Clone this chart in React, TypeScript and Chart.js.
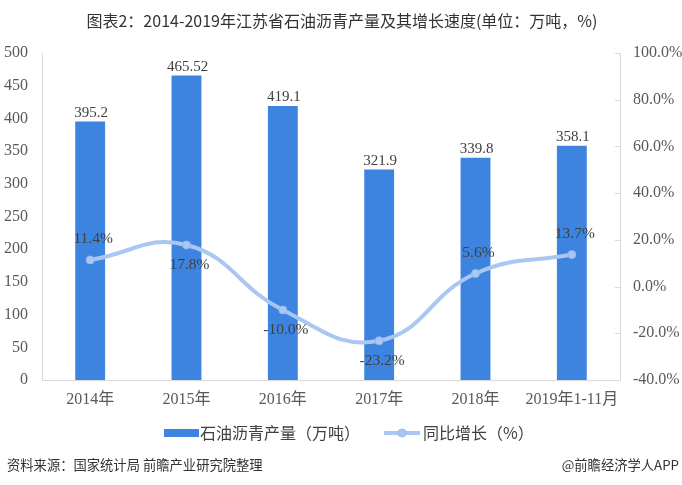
import React, { useEffect, useRef } from "react";
import { Chart, registerables } from "chart.js";

Chart.register(...registerables);

const categories = ["2014年", "2015年", "2016年", "2017年", "2018年", "2019年1-11月"];
const production = [395.2, 465.52, 419.1, 321.9, 339.8, 358.1];
const productionLabels = ["395.2", "465.52", "419.1", "321.9", "339.8", "358.1"];
const growth = [11.4, 17.8, -10.0, -23.2, 5.6, 13.7];
const growthLabelSide = ["top", "bottom", "bottom", "bottom", "top", "top"];

const titleText = "图表2：2014-2019年江苏省石油沥青产量及其增长速度(单位：万吨，%)";
const barLegend = "石油沥青产量（万吨）";
const lineLegend = "同比增长（%）";
const sourceText = "资料来源：国家统计局 前瞻产业研究院整理";
const brandText = "@前瞻经济学人APP";

const BAR_COLOR = "#3d83e0";
const LINE_COLOR = "#a9c7f0";
const SERIF = "'Liberation Serif', 'Times New Roman', 'Noto Sans CJK SC', serif";
const SANS = "'Noto Sans CJK SC', 'Microsoft YaHei', sans-serif";

const decorPlugin = {
  id: "decor",
  afterDraw(chart: any) {
    const ctx = chart.ctx;
    const W = chart.width;
    ctx.save();
    // title
    ctx.fillStyle = "#333333";
    ctx.font = `16px ${SANS}`;
    ctx.textAlign = "center";
    ctx.textBaseline = "middle";
    ctx.fillText(titleText, W / 2 + 1, 21);

    // right axis inner tick marks
    const y1 = chart.scales.y1;
    ctx.strokeStyle = "#d9d9d9";
    ctx.lineWidth = 1;
    y1.ticks.forEach((t: any, i: number) => {
      const y = Math.round(y1.getPixelForTick(i)) + 0.5;
      ctx.beginPath();
      ctx.moveTo(y1.left - 5, y);
      ctx.lineTo(y1.left, y);
      ctx.stroke();
    });

    // legend
    const ly = 433;
    ctx.fillStyle = BAR_COLOR;
    ctx.fillRect(164, ly - 4, 35, 8);
    ctx.fillStyle = "#404040";
    ctx.font = `16px ${SANS}`;
    ctx.textAlign = "left";
    ctx.fillText(barLegend, 200, ly);
    ctx.strokeStyle = LINE_COLOR;
    ctx.lineWidth = 4;
    ctx.beginPath();
    ctx.moveTo(384, ly);
    ctx.lineTo(420, ly);
    ctx.stroke();
    ctx.fillStyle = LINE_COLOR;
    ctx.strokeStyle = "#96b9ea";
    ctx.lineWidth = 1;
    ctx.beginPath();
    ctx.arc(402, ly, 4, 0, Math.PI * 2);
    ctx.fill();
    ctx.stroke();
    ctx.fillStyle = "#404040";
    ctx.fillText(lineLegend, 423, ly);

    // footer
    ctx.font = `13.3px ${SANS}`;
    ctx.fillStyle = "#333333";
    ctx.textAlign = "left";
    ctx.fillText(sourceText, 7, 465);
    ctx.textAlign = "right";
    ctx.fillText(brandText, 679, 465);
    ctx.restore();
  },
  afterDatasetsDraw(chart: any) {
    const ctx = chart.ctx;
    ctx.save();
    ctx.font = `15px ${SERIF}`;
    ctx.fillStyle = "#404040";
    ctx.textAlign = "center";
    const barMeta = chart.getDatasetMeta(0);
    barMeta.data.forEach((el: any, i: number) => {
      ctx.textBaseline = "bottom";
      ctx.fillText(productionLabels[i], el.x + 1, el.y - 1);
    });
    ctx.font = `15.5px ${SERIF}`;
    const lineMeta = chart.getDatasetMeta(1);
    lineMeta.data.forEach((el: any, i: number) => {
      const label = growth[i].toFixed(1) + "%";
      ctx.textBaseline = "middle";
      const dy = growthLabelSide[i] === "top" ? -21 : 20;
      ctx.fillText(label, el.x + 3, el.y + dy);
    });
    ctx.restore();
  },
};

export default function App() {
  const ref = useRef<HTMLCanvasElement>(null);
  useEffect(() => {
    if (!ref.current) return;
    const chart = new Chart(ref.current, {
      type: "bar",
      data: {
        labels: categories,
        datasets: [
          {
            type: "bar",
            label: barLegend,
            data: production,
            backgroundColor: BAR_COLOR,
            yAxisID: "y",
            barPercentage: 0.31,
            categoryPercentage: 1,
            order: 2,
          },
          {
            type: "line",
            label: lineLegend,
            data: growth,
            borderColor: LINE_COLOR,
            backgroundColor: LINE_COLOR,
            borderWidth: 4,
            pointRadius: 4,
            pointBorderColor: "#96b9ea",
            pointBorderWidth: 1,
            pointBackgroundColor: LINE_COLOR,
            tension: 0.45,
            yAxisID: "y1",
            order: 1,
          } as any,
        ],
      },
      options: {
        animation: false,
        responsive: false,
        maintainAspectRatio: false,
        layout: { padding: { top: 53, bottom: 75, left: 0, right: 0 } },
        plugins: { legend: { display: false }, title: { display: false }, tooltip: { enabled: false } },
        scales: {
          x: {
            grid: { display: false, drawTicks: false },
            border: { display: true, color: "#d9d9d9" },
            ticks: { font: { size: 16, family: SERIF }, color: "#595959", padding: 10, maxRotation: 0, autoSkip: false },
            afterFit: (s: any) => { s.height = 30; },
          },
          y: {
            position: "left",
            min: 0,
            max: 500,
            ticks: { stepSize: 50, font: { size: 16, family: SERIF }, color: "#595959", padding: 14 },
            grid: { display: false, drawTicks: false },
            border: { display: true, color: "#d9d9d9" },
            afterFit: (s: any) => { s.width = 42; },
          },
          y1: {
            position: "right",
            min: -40,
            max: 100,
            ticks: {
              stepSize: 20,
              font: { size: 16, family: SERIF },
              color: "#595959",
              padding: 13,
              callback: (v: any) => Number(v).toFixed(1) + "%",
            },
            grid: { display: false, drawTicks: false },
            border: { display: true, color: "#d9d9d9" },
            afterFit: (s: any) => { s.width = 62; },
          },
        },
      },
      plugins: [decorPlugin],
    });
    return () => chart.destroy();
  }, []);
  return (
    <div style={{ position: "fixed", left: 0, top: 0, width: 682, height: 485, background: "#fff" }}>
      <canvas ref={ref} width={682} height={485} style={{ width: 682, height: 485 }} />
    </div>
  );
}
